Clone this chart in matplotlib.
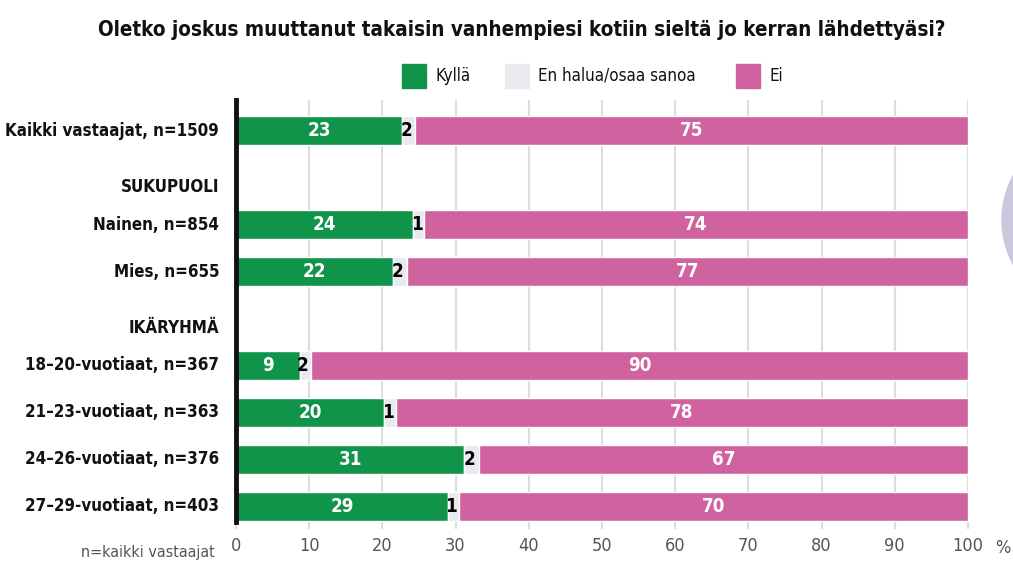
import numpy as np
import matplotlib
matplotlib.use('Agg')
import matplotlib.pyplot as plt
from matplotlib.patches import Circle, Rectangle

plt.rcParams['font.family'] = ['DejaVu Sans']
plt.rcParams['font.stretch'] = 'condensed'

# rivit (otsikkorivit ilman palkkeja)
labels = ['Kaikki vastaajat, n=1509', 'SUKUPUOLI', 'Nainen, n=854', 'Mies, n=655',
          'IKÄRYHMÄ', '18–20-vuotiaat, n=367', '21–23-vuotiaat, n=363',
          '24–26-vuotiaat, n=376', '27–29-vuotiaat, n=403']
is_header = [False, True, False, False, True, False, False, False, False]

# osuudet kuvasta luettuna
kylla = [22.7, 0, 24.2, 21.4, 0, 8.7, 20.2, 31.2, 29.0]
eos = [1.8, 0, 1.5, 2.0, 0, 1.5, 1.6, 2.0, 1.4]
ei = [75.5, 0, 74.3, 76.6, 0, 89.8, 78.2, 66.8, 69.6]
# näytetyt arvot
kylla_lbl = [23, None, 24, 22, None, 9, 20, 31, 29]
eos_lbl = [2, None, 1, 2, None, 2, 1, 2, 1]
ei_lbl = [75, None, 74, 77, None, 90, 78, 67, 70]

legend_labels = ['Kyllä', 'En halua/osaa sanoa', 'Ei']

green = '#10944a'
grey = '#e9e9ef'
pink = '#d062a0'
colors = [green, grey, pink]

fig = plt.figure(figsize=(10.13, 5.65), dpi=100)
ax = fig.add_axes([236/1013, 1-522/565, (968-236)/1013, (522-100)/565])

y = np.arange(len(labels))
kylla = np.array(kylla); eos = np.array(eos); ei = np.array(ei)
h = 0.62
ax.barh(y, kylla, height=h, color=green, edgecolor='white', linewidth=1, zorder=3)
ax.barh(y, eos, left=kylla, height=h, color=grey, edgecolor='white', linewidth=1, zorder=3)
ax.barh(y, ei, left=kylla+eos, height=h, color=pink, edgecolor='white', linewidth=1, zorder=3)

for i in range(len(labels)):
    if is_header[i]:
        continue
    ax.text(kylla[i]/2, y[i], str(kylla_lbl[i]), ha='center', va='center',
            color='white', fontsize=13.5, fontweight='bold', zorder=4)
    ax.text(kylla[i] + eos[i]/2 - 0.3, y[i], str(eos_lbl[i]), ha='center', va='center',
            color='black', fontsize=13.5, fontweight='bold', zorder=4)
    ax.text(kylla[i] + eos[i] + ei[i]/2, y[i], str(ei_lbl[i]), ha='center', va='center',
            color='white', fontsize=13.5, fontweight='bold', zorder=4)

ax.set_xlim(0, 100)
ax.set_ylim(8.34, -0.66)
ax.set_xticks(np.arange(0, 101, 10))
ax.set_xticklabels([str(v) for v in range(0, 101, 10)], fontsize=13, color='#555555')
ax.tick_params(axis='x', length=5, width=1.5, color='#dddddd', pad=6)
ax.xaxis.grid(True, color='#dddddd', linewidth=1.5, zorder=0)
ax.set_axisbelow(True)

ax.set_yticks([])
for i, lab in enumerate(labels):
    yy = y[i] + (0.2 if is_header[i] else 0)
    ax.text(-0.023, yy, lab, transform=ax.get_yaxis_transform(), ha='right', va='center',
            fontsize=12.2, fontweight='bold', color='#111111')

for s in ['top', 'right', 'bottom']:
    ax.spines[s].set_visible(False)
ax.spines['left'].set_linewidth(3.5)
ax.spines['left'].set_color('#111111')
ax.spines['left'].set_zorder(5)

fig.text(1003/1013, 1-548/565, '%', ha='center', va='center', fontsize=13, color='#555555')
fig.text(215/1013, 1-553/565, 'n=kaikki vastaajat', ha='right', va='center',
         fontsize=11.5, color='#555555')

fig.text(522/1013, 1-30/565, 'Oletko joskus muuttanut takaisin vanhempiesi kotiin sieltä jo kerran lähdettyäsi?',
         ha='center', va='center', fontsize=14.8, fontweight='bold', color='#111111')

# selite
sq_x = [402, 505, 736]
for xx, c, lab in zip(sq_x, colors, legend_labels):
    fig.add_artist(Rectangle((xx, 565-88), 24, 24, transform=None, color=c))
    fig.text((xx+33)/1013, 1-76/565, lab, ha='left', va='center', fontsize=12.2, color='#111111')

fig.patches.append(Circle((1095, 565-220), 93, transform=None, color='#c9c8dd', zorder=0))

fig.savefig('out.png', dpi=100)
